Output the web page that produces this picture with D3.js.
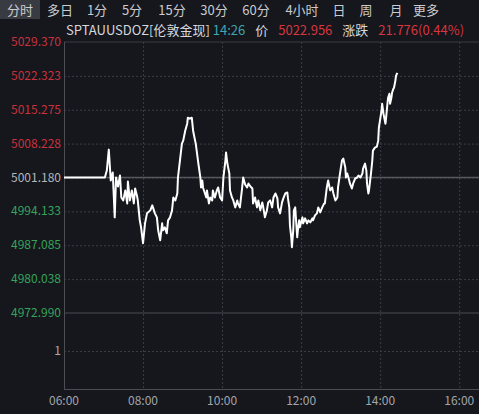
<!DOCTYPE html>
<html>
<head>
<meta charset="utf-8">
<title>SPTAUUSDOZ</title>
<script src="https://cdnjs.cloudflare.com/ajax/libs/d3/7.8.5/d3.min.js"></script>
<style>
  body { margin: 0; background: #15171d; }
  svg { display: block; font-family: "Noto Sans CJK SC", "Noto Sans", sans-serif; }
  .grid line { stroke: #3a3d46; stroke-dasharray: 2,2; }
  .grid path { display: none; }
</style>
</head>
<body>
<svg id="chart" width="479" height="414"></svg>
<script>
// tabs across the top
var tabs = ["分时", "多日", "1分", "5分", "15分", "30分", "60分", "4小时", "日", "周", "月", "更多"];

// y ticks (price pane), prev close
var yTicks = [5029.370, 5022.323, 5015.275, 5008.228, 5001.180, 4994.133, 4987.085, 4980.038, 4972.990];
var prevClose = 5001.180;

// x ticks
var xTicks = ["06:00", "08:00", "10:00", "12:00", "14:00", "16:00"];

// intraday prices
var times = ["06:00","07:02","07:05","07:08","07:11","07:14","07:17","07:19","07:22","07:25",
  "07:27","07:30","07:33","07:36","07:37","07:40","07:43","07:46","07:48","07:51",
  "07:52","07:55","07:57","08:00","08:03","08:06","08:11","08:14","08:15","08:18",
  "08:21","08:23","08:26","08:29","08:30","08:33","08:36","08:38","08:41","08:44",
  "08:46","08:49","08:52","08:53","08:56","08:59","09:01","09:04","09:07","09:08",
  "09:11","09:14","09:16","09:19","09:20","09:22","09:24","09:27","09:28","09:30",
  "09:31","09:34","09:36","09:37","09:40","09:42","09:45","09:46","09:49","09:52",
  "09:54","09:57","10:00","10:02","10:05","10:06","10:08","10:11","10:12","10:15",
  "10:17","10:20","10:23","10:24","10:27","10:30","10:32","10:35","10:38","10:40",
  "10:43","10:46","10:47","10:50","10:53","10:55","10:58","11:01","11:02","11:05",
  "11:08","11:10","11:13","11:16","11:18","11:21","11:24","11:25","11:28","11:31",
  "11:33","11:36","11:39","11:40","11:42","11:43","11:45","11:46","11:48","11:49",
  "11:51","11:52","11:54","11:55","11:57","11:58","12:02","12:03","12:06","12:09",
  "12:11","12:14","12:17","12:18","12:21","12:24","12:26","12:29","12:32","12:35",
  "12:36","12:39","12:41","12:44","12:47","12:49","12:52","12:55","12:56","12:59",
  "13:02","13:04","13:07","13:08","13:10","13:13","13:14","13:17","13:19","13:22",
  "13:25","13:27","13:30","13:33","13:34","13:37","13:39","13:40","13:42","13:43",
  "13:46","13:48","13:49","13:52","13:55","13:57","13:58","14:02","14:03","14:05",
  "14:08","14:09","14:11","14:12","14:14","14:15","14:17","14:18","14:20","14:21",
  "14:23","14:24","14:26"];
var prices = [5001.18,5001.18,5002.63,5006.98,5000.56,5002.22,4992.89,5001.18,4999.31,5001.59,
  4997.03,4996.41,4998.49,4995.79,5000.35,4996.41,4998.49,4995.79,4998.90,4997.24,
  4996.41,4992.27,4990.81,4987.50,4991.64,4993.72,4994.34,4995.38,4994.96,4993.72,
  4992.89,4990.19,4988.12,4991.64,4990.19,4990.81,4989.57,4992.27,4992.89,4994.34,
  4997.03,4996.41,4997.86,5001.18,5004.70,5008.23,5008.85,5010.92,5012.37,5013.62,
  5013.41,5013.62,5010.92,5008.85,5008.23,5006.16,5004.08,5001.18,4999.11,5000.56,
  4999.11,4997.86,4997.03,4998.49,4995.79,4997.03,4996.41,4998.49,4997.03,4998.49,
  4999.11,4997.03,4996.41,5001.18,5004.70,5006.36,5004.08,5002.01,4998.49,4997.03,
  4996.41,4994.96,4996.41,4995.79,4994.96,4998.49,5001.18,4999.73,4999.11,4999.94,
  4999.31,4998.90,4995.79,4997.03,4994.96,4996.41,4994.34,4996.00,4995.38,4992.89,
  4994.34,4996.00,4996.41,4994.96,4997.03,4997.86,4996.83,4994.96,4993.72,4996.00,
  4996.83,4997.86,4998.07,4996.83,4994.96,4991.23,4988.74,4986.67,4990.19,4994.34,
  4994.96,4992.89,4988.74,4990.19,4992.27,4990.81,4992.89,4991.64,4992.68,4991.64,
  4992.27,4991.85,4992.68,4992.27,4993.30,4993.72,4994.96,4993.92,4994.96,4995.79,
  4995.79,4999.11,5000.56,4998.49,4999.11,4997.86,4996.41,4997.03,4999.11,5002.01,
  5004.70,5005.12,5003.25,5001.18,5002.01,5000.56,4999.94,4998.90,4999.94,5000.97,
  5001.18,5001.59,5001.18,5002.01,5003.05,5004.08,5002.63,4999.94,4997.86,4998.49,
  5002.01,5004.70,5006.78,5007.40,5007.61,5008.85,5011.55,5015.07,5016.52,5014.45,
  5012.37,5013.62,5016.52,5017.76,5018.59,5016.52,5017.76,5018.80,5019.63,5019.84,
  5021.29,5022.32,5022.96];

var lastTime = "14:26", lastPrice = "5022.956", change = "21.776(0.44%)";

var svg = d3.select("#chart");
var parseTime = d3.timeParse("%H:%M");

var x = d3.scaleTime()
  .domain([parseTime("06:00"), parseTime("16:30")])
  .range([64, 479]);
var y = d3.scaleLinear()
  .domain([yTicks[yTicks.length - 1], yTicks[0]])
  .range([313, 42]);
var vol = d3.scaleLinear().domain([0, 2]).range([389, 313]);

// tab bar
var tabX = [20, 60, 97, 132, 172, 214, 256, 302, 339, 366, 396, 426];
svg.append("rect").attr("x", 0).attr("y", 0).attr("width", 40).attr("height", 19).attr("fill", "#393b42");
svg.selectAll("text.tab").data(tabs).enter().append("text")
  .attr("class", "tab")
  .attr("x", function(d, i) { return tabX[i]; })
  .attr("y", 15)
  .attr("text-anchor", "middle")
  .attr("font-size", 13)
  .attr("fill", "#c9cbd0")
  .text(function(d) { return d; });

// header line
var head = svg.append("text").attr("x", 66).attr("y", 35).attr("font-size", 13);
head.append("tspan").attr("fill", "#d6d8dc").text("SPTAUUSDOZ[伦敦金现] ");
head.append("tspan").attr("fill", "#3fa6ae").text(lastTime);
head.append("tspan").attr("fill", "#d6d8dc").attr("dx", 10).text("价");
head.append("tspan").attr("fill", "#d8353f").attr("dx", 10).text(lastPrice);
head.append("tspan").attr("fill", "#d6d8dc").attr("dx", 10).text("涨跌");
head.append("tspan").attr("fill", "#d8353f").attr("dx", 10).text(change);

// horizontal dotted grid
svg.append("g").attr("class", "grid")
  .attr("transform", "translate(64,0)")
  .call(d3.axisRight(y).tickValues(yTicks.slice(1, -1)).tickSize(415).tickFormat(""));
svg.append("g").attr("class", "grid")
  .attr("transform", "translate(64,0)")
  .call(d3.axisRight(vol).tickValues([1]).tickSize(415).tickFormat(""));
// vertical dotted grid
svg.append("g").attr("class", "grid")
  .attr("transform", "translate(0,42)")
  .call(d3.axisBottom(x).tickValues(xTicks.slice(1).map(parseTime)).tickSize(347).tickFormat(""));

// frame lines
svg.append("line").attr("x1", 64).attr("x2", 479).attr("y1", y(yTicks[0])).attr("y2", y(yTicks[0])).attr("stroke", "#3a3d46");
svg.append("line").attr("x1", 64).attr("x2", 479).attr("y1", 313).attr("y2", 313).attr("stroke", "#4a4d55");
svg.append("line").attr("x1", 64).attr("x2", 479).attr("y1", 389.5).attr("y2", 389.5).attr("stroke", "#4a4d55");
svg.append("line").attr("x1", 64.5).attr("x2", 64.5).attr("y1", 42).attr("y2", 389).attr("stroke", "#4a4d55");

// prev close line
svg.append("line").attr("x1", 64).attr("x2", 479).attr("y1", y(prevClose)).attr("y2", y(prevClose))
  .attr("stroke", "#55575d").attr("stroke-width", 1.5);

// y labels
svg.selectAll("text.ylab").data(yTicks).enter().append("text")
  .attr("class", "ylab")
  .attr("x", 61)
  .attr("y", function(d) { return y(d) + 4; })
  .attr("text-anchor", "end")
  .attr("font-size", 12)
  .attr("fill", function(d) { return d > prevClose ? "#c8323c" : d < prevClose ? "#35a35a" : "#b4b6ba"; })
  .text(function(d) { return d3.format(".3f")(d); });
svg.append("text").attr("x", 61).attr("y", vol(1) + 4).attr("text-anchor", "end")
  .attr("font-size", 12).attr("fill", "#a9abb0").text("1");

// x labels
svg.selectAll("text.xlab").data(xTicks).enter().append("text")
  .attr("class", "xlab")
  .attr("x", function(d) { return x(parseTime(d)); })
  .attr("y", 405)
  .attr("text-anchor", "middle")
  .attr("font-size", 12)
  .attr("fill", "#a3a5aa")
  .text(function(d) { return d; });

// price line
var line = d3.line()
  .x(function(d) { return x(parseTime(d[0])); })
  .y(function(d) { return y(d[1]); });
svg.append("path")
  .datum(d3.zip(times, prices))
  .attr("fill", "none")
  .attr("stroke", "#ffffff")
  .attr("stroke-width", 2)
  .attr("stroke-linejoin", "round")
  .attr("d", line);
</script>
</body>
</html>
